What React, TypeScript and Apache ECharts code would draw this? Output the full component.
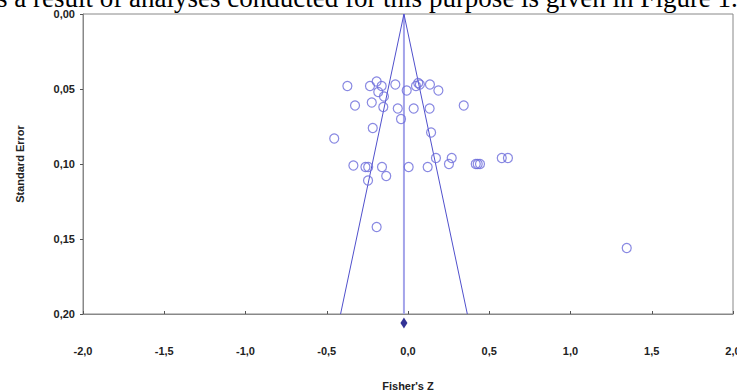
import React, { useEffect, useRef } from "react";
import * as echarts from "echarts";

// Study effects (Fisher's Z) and standard errors
const fisherZ = [
  -0.373, -0.193, -0.234, -0.162, -0.183, -0.148, -0.078, -0.008, 0.049, 0.063, 0.073, 0.135, 0.187,
  -0.326, -0.223, -0.152, -0.063, 0.035, 0.133, 0.343,
  -0.043, -0.217, 0.142, -0.454,
  0.172, 0.269, 0.252, 0.417, 0.429, 0.443, 0.577, 0.615,
  -0.336, -0.262, -0.245, -0.16, -0.134, 0.004, 0.121, -0.246, -0.193, 1.346,
];
const stdErr = [
  0.048, 0.045, 0.048, 0.048, 0.052, 0.055, 0.047, 0.051, 0.048, 0.046, 0.047, 0.047, 0.051,
  0.061, 0.059, 0.062, 0.063, 0.063, 0.063, 0.061,
  0.07, 0.076, 0.079, 0.083,
  0.096, 0.096, 0.1, 0.1, 0.1, 0.1, 0.096, 0.096,
  0.101, 0.102, 0.102, 0.102, 0.108, 0.102, 0.102, 0.111, 0.142, 0.156,
];
// Funnel (95% limits) and pooled estimate
const funnelX = [-0.415, -0.025, 0.365];
const funnelSE = [0.2, 0, 0.2];
const meanX = [-0.025, -0.025];
const meanSE = [0, 0.2];
const diamondX = -0.025;
const diamondSE = 0.206;

const xTicks = { min: -2, max: 2, interval: 0.5 };
const yTicks = { min: 0, max: 0.2, interval: 0.05 };

const heading = "s a result of analyses conducted for this purpose is given in Figure 1.";

export default function App() {
  const ref = useRef<HTMLDivElement>(null);
  useEffect(() => {
    if (!ref.current) return;
    const chart = echarts.init(ref.current, null, { renderer: "svg" });
    const labelStyle = {
      fontFamily: "Liberation Sans, Arial, sans-serif",
      fontWeight: "bold" as const,
      fontSize: 11,
      color: "#222",
    };
    chart.setOption({
      animation: false,
      backgroundColor: "#fff",
      grid: {
        left: 83,
        right: 4,
        top: 14,
        bottom: 77,
        outerBoundsMode: "none",
        containLabel: false,
        show: true,
        borderColor: "#888",
        borderWidth: 1,
        backgroundColor: "transparent",
      },
      graphic: [
        {
          type: "text",
          x: -3,
          y: -2,
          style: {
            text: heading,
            font: "27px 'Liberation Serif', 'Times New Roman', serif",
            fill: "#000",
            align: "left",
            verticalAlign: "middle",
          },
          z: 10,
        },
      ],
      xAxis: {
        type: "value",
        min: xTicks.min,
        max: xTicks.max,
        interval: xTicks.interval,
        name: "Fisher's Z",
        nameLocation: "middle",
        nameGap: 66,
        nameTextStyle: { ...labelStyle },
        axisLine: { show: true, onZero: false, lineStyle: { color: "#888", width: 1 } },
        axisTick: { show: true, inside: true, length: 3, lineStyle: { color: "#555" } },
        splitLine: { show: false },
        axisLabel: {
          ...labelStyle,
          margin: 31,
          hideOverlap: false,
          formatter: (v: number) => v.toFixed(1).replace(".", ","),
        },
      },
      yAxis: {
        type: "value",
        inverse: true,
        min: yTicks.min,
        max: yTicks.max,
        interval: yTicks.interval,
        name: "Standard Error",
        nameLocation: "middle",
        nameGap: 58,
        nameTextStyle: { ...labelStyle },
        axisLine: { show: true, onZero: false, lineStyle: { color: "#888", width: 1 } },
        axisTick: { show: true, length: 3, lineStyle: { color: "#555" } },
        splitLine: { show: false },
        axisLabel: {
          ...labelStyle,
          margin: 8,
          formatter: (v: number) => v.toFixed(2).replace(".", ","),
        },
      },
      series: [
        {
          type: "line",
          data: meanX.map((x, i) => [x, meanSE[i]]),
          symbol: "none",
          lineStyle: { color: "#a4a4ea", width: 2 },
          z: 2,
        },
        {
          type: "line",
          data: funnelX.map((x, i) => [x, funnelSE[i]]),
          symbol: "none",
          lineStyle: { color: "#5050cc", width: 1 },
          z: 3,
        },
        {
          type: "scatter",
          data: fisherZ.map((x, i) => [x, stdErr[i]]),
          symbol: "circle",
          symbolSize: 9,
          itemStyle: { color: "rgba(255,255,255,0)", borderColor: "#6b6bdb", borderWidth: 1.2 },
          z: 4,
        },
        {
          type: "scatter",
          data: [[diamondX, diamondSE]],
          symbol: "diamond",
          symbolSize: [7, 11],
          clip: false,
          itemStyle: { color: "#00007a" },
          z: 5,
        },
      ],
    });
    return () => chart.dispose();
  }, []);
  return (
    <div
      ref={ref}
      style={{ position: "fixed", left: 0, top: 0, width: 737, height: 391, background: "#fff" }}
    />
  );
}
